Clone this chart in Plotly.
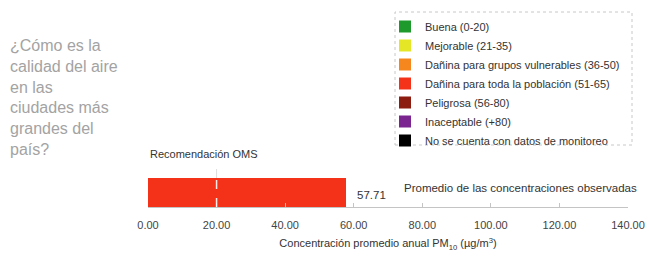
import plotly.graph_objects as go

# ---- data ----
categories = ["Promedio de las concentraciones observadas"]
values = [57.71]
oms_value = 20
oms_label = "Recomendación OMS"
legend_labels = [
    "Buena (0-20)",
    "Mejorable (21-35)",
    "Dañina para grupos vulnerables (36-50)",
    "Dañina para toda la población (51-65)",
    "Peligrosa (56-80)",
    "Inaceptable (+80)",
    "No se cuenta con datos de monitoreo",
]
legend_colors = ["#1d9a2b", "#e4e626", "#f6871f", "#f4321a", "#8c1b10", "#7b2590", "#000000"]
tick_vals = [0, 20, 40, 60, 80, 100, 120, 140]
tick_text = [f"{v:.2f}" for v in tick_vals]
side_title = "¿Cómo es la<br>calidad del aire<br>en las<br>ciudades más<br>grandes del<br>país?"
x_title = "Concentración promedio anual PM<sub>10</sub> (µg/m<sup>3</sup>)"

FONT = "Liberation Sans, Arial, sans-serif"
bar_color = "#f4321a"

# plot-area geometry (pixels)
L, R, T, B = 148, 21, 0, 50
H = 257 - T - B  # plot height
W = 649 - L - R
PX_PER_UNIT = 29


def py(p):  # pixel row -> paper y
    return (257 - B - p) / H


def px(p):  # pixel column -> paper x
    return (p - L) / W


fig = go.Figure()
fig.add_trace(go.Bar(
    x=values, y=categories, orientation="h", width=1.0,
    marker=dict(color=bar_color, line=dict(width=0)),
    showlegend=False, hoverinfo="x",
))
for lab, col in zip(legend_labels, legend_colors):
    fig.add_trace(go.Scatter(
        x=[None], y=[None], mode="markers", name=lab,
        marker=dict(symbol="square", size=12, color=col),
    ))

# OMS dashed line
fig.add_shape(type="line", xref="x", yref="y", x0=oms_value, x1=oms_value,
              y0=-0.5, y1=0.5, line=dict(color="rgba(255,255,255,0.9)", width=1.5, dash="dash"))
fig.add_shape(type="line", xref="x", yref="y", x0=oms_value, x1=oms_value,
              y0=0.5, y1=0.95, line=dict(color="#dddddd", width=1, dash="dash"))

# Dotted legend box
fig.add_shape(type="rect", xref="paper", yref="paper",
              x0=px(395), x1=px(632), y0=py(145), y1=py(12),
              line=dict(color="#c8c8c8", width=1, dash="dot"))

annotations = [
    dict(text=f"{values[0]:.2f}", x=values[0], y=categories[0], xref="x", yref="y",
         xanchor="left", yanchor="middle", xshift=9, yshift=-2, showarrow=False,
         font=dict(family=FONT, size=11.5, color="#333333")),
    dict(text=categories[0], x=px(402), y=categories[0], xref="paper", yref="y",
         xanchor="left", yanchor="middle", yshift=5, showarrow=False,
         font=dict(family=FONT, size=11.5, color="#333333")),
    dict(text=oms_label, x=oms_value, y=py(154), xref="x", yref="paper",
         xanchor="center", yanchor="middle", xshift=-13, showarrow=False,
         font=dict(family=FONT, size=11, color="#333333")),
    dict(text=side_title, x=px(8), y=py(35), xref="paper", yref="paper",
         xanchor="left", yanchor="top", align="left", showarrow=False,
         font=dict(family=FONT, size=16, color="#a3a3a3")),
]

fig.update_layout(
    width=649, height=257,
    margin=dict(l=L, r=R, t=T, b=B),
    paper_bgcolor="white", plot_bgcolor="white",
    font=dict(family=FONT, size=11, color="#444444"),
    showlegend=True,
    legend=dict(
        x=px(385), y=py(12), xanchor="left", yanchor="top",
        bgcolor="rgba(0,0,0,0)", borderwidth=0,
        font=dict(family=FONT, size=11, color="#333333"),
        itemsizing="trace", maxheight=240,
    ),
    annotations=annotations,
    bargap=0,
)
fig.update_xaxes(
    range=[0, 140], tickvals=tick_vals, ticktext=tick_text, tickangle=0,
    showgrid=False, zeroline=False, showline=True, linecolor="#c4c4c4", linewidth=1,
    ticks="inside", ticklen=4, tickcolor="#c4c4c4",
    tickfont=dict(family=FONT, size=11, color="#444444"),
    ticklabelstandoff=8,
    title=dict(text=x_title, font=dict(family=FONT, size=11, color="#333333"), standoff=9),
    fixedrange=True,
)
fig.update_yaxes(
    range=[-0.5, -0.5 + H / PX_PER_UNIT], showticklabels=False, showgrid=False, zeroline=False,
    showline=False, ticks="", fixedrange=True,
)

fig.write_html(
    "out.html",
    config={"displayModeBar": False},
    post_script="document.body.style.margin='0px';document.body.style.overflow='hidden';",
)
